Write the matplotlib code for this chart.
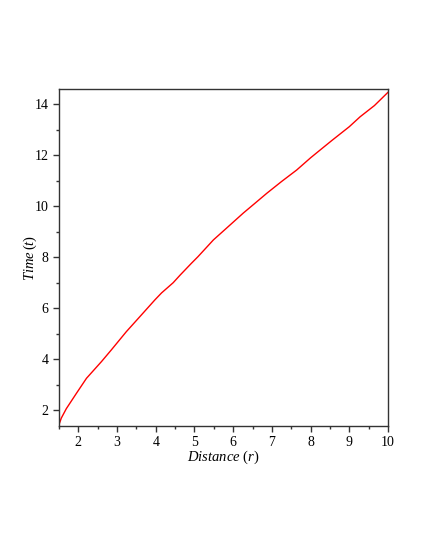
import numpy as np
import matplotlib.pyplot as plt
from matplotlib.ticker import MultipleLocator

# values
distance = [1.5, 1.56, 1.69, 1.95, 2.21, 2.60, 2.85, 3.24, 3.59, 3.98, 4.15, 4.45,
            4.63, 4.92, 5.09, 5.49, 5.85, 6.26, 6.55, 6.87, 7.25, 7.64, 8.0, 8.25,
            8.55, 9.0, 9.28, 9.65, 10.0]
time = [1.43, 1.69, 2.06, 2.66, 3.25, 3.91, 4.36, 5.08, 5.67, 6.33, 6.60, 7.0,
        7.30, 7.76, 8.02, 8.68, 9.17, 9.73, 10.10, 10.51, 10.97, 11.42, 11.90, 12.21,
        12.58, 13.12, 13.51, 13.95, 14.47]

plt.rcParams['font.family'] = 'Liberation Serif'
plt.rcParams['mathtext.fontset'] = 'custom'
plt.rcParams['mathtext.rm'] = 'Liberation Serif'
plt.rcParams['mathtext.it'] = 'Liberation Serif:italic'

fig = plt.figure(figsize=(4.25, 5.5), dpi=100)
ax = fig.add_axes([0.1388, 0.2255, 0.7741, 0.6127])

ax.plot(distance, time, color='red', linewidth=1.0)

ax.set_xlim(min(distance), max(distance))
ax.set_ylim(1.38, 14.6)

ax.xaxis.set_major_locator(MultipleLocator(1))
ax.xaxis.set_minor_locator(MultipleLocator(0.5))
ax.yaxis.set_major_locator(MultipleLocator(2))
ax.yaxis.set_minor_locator(MultipleLocator(1))

ax.tick_params(which='both', direction='out', top=False, right=False,
               labelsize=10, color='#333333', width=1)
ax.tick_params(which='major', length=4.5, pad=3)
ax.tick_params(which='minor', length=2.5)

for s in ax.spines.values():
    s.set_color('#333333')
    s.set_linewidth(1.0)

ax.set_xlabel(r'$\mathit{Distance}\ (r)$', fontsize=10.5)
ax.set_ylabel(r'$\mathit{Time}\,(t)$', fontsize=10.5)
ax.xaxis.set_label_coords(0.5, -0.092)
ax.yaxis.set_label_coords(-0.088, 0.5)
ax.xaxis.label.set_va('center')
ax.yaxis.label.set_va('center')

fig.savefig('out.png', dpi=100)
